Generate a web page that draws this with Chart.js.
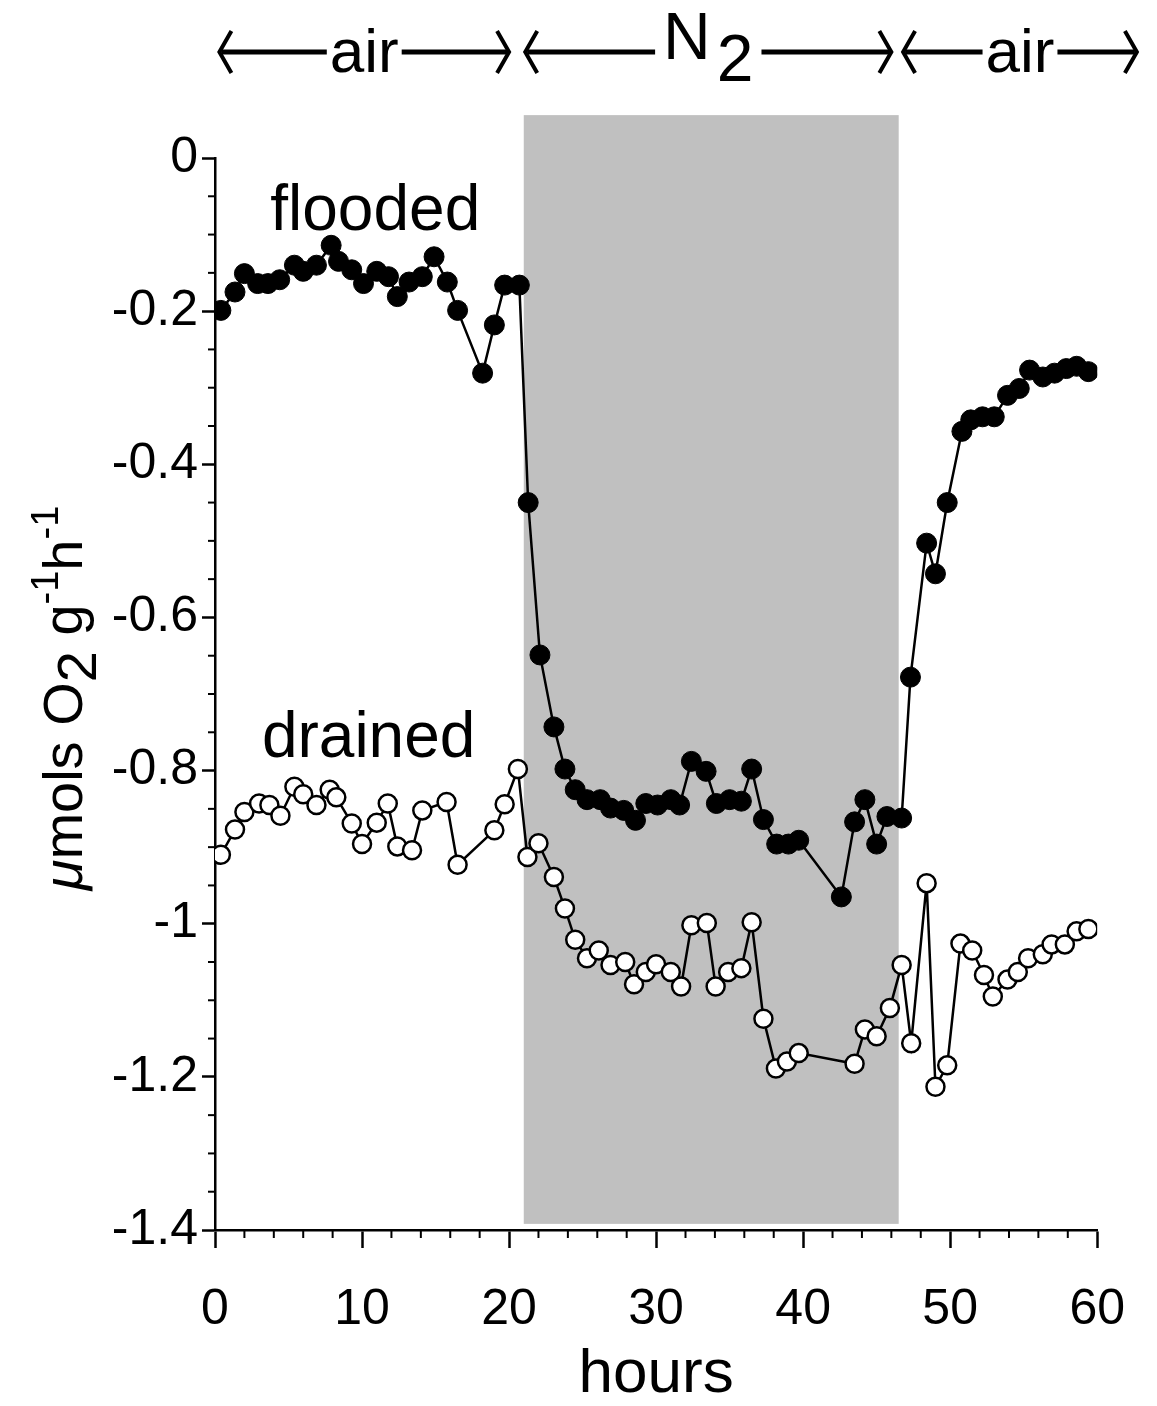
<!DOCTYPE html>
<html>
<head>
<meta charset="utf-8">
<script src="https://cdn.jsdelivr.net/npm/chart.js@4.4.1/dist/chart.umd.min.js"></script>
<style>
  html, body { margin: 0; padding: 0; background: #fff; }
  #wrap { width: 1157px; height: 1406px; position: relative; }
</style>
</head>
<body>
<div id="wrap"><canvas id="chart"></canvas></div>
<script>
// hours and rate values
const floodedHours = [0.4, 1.36, 2.0, 2.9, 3.6, 4.4, 5.4, 6.0, 6.9, 7.9, 8.4, 9.3, 10.1, 11.0, 11.8, 12.4, 13.2, 14.1, 14.9, 15.8,
    16.5, 18.2, 19.0, 19.7, 20.7, 21.3, 22.1, 23.05, 23.8, 24.5, 25.3, 26.2, 26.9, 27.8, 28.6, 29.3, 30.1, 31.0, 31.6, 32.4,
    33.4, 34.1, 35.0, 35.8, 36.5, 37.3, 38.2, 39.0, 39.7, 42.6, 43.5, 44.2, 45.0, 45.7, 46.7, 47.3, 48.4, 49.0, 49.8, 50.8,
    51.4, 52.2, 53.0, 53.9, 54.7, 55.4, 56.3, 57.1, 57.9, 58.6, 59.4];
const floodedValues = [-0.199, -0.175, -0.151, -0.164, -0.164, -0.159, -0.140, -0.148, -0.140, -0.114, -0.135, -0.146, -0.164, -0.148, -0.155, -0.181, -0.162, -0.155, -0.129, -0.162,
    -0.199, -0.281, -0.218, -0.166, -0.166, -0.45, -0.649, -0.743, -0.798, -0.825, -0.838, -0.838, -0.849, -0.852, -0.865, -0.843, -0.845, -0.838, -0.845, -0.788,
    -0.801, -0.843, -0.838, -0.84, -0.798, -0.864, -0.896, -0.896, -0.891, -0.965, -0.867, -0.838, -0.896, -0.860, -0.862, -0.678, -0.503, -0.543, -0.45, -0.357,
    -0.342, -0.338, -0.338, -0.31, -0.301, -0.277, -0.286, -0.281, -0.275, -0.272, -0.279];

const drainedHours = [0.4, 1.36, 2.0, 3.0, 3.7, 4.45, 5.4, 6.0, 6.9, 7.8, 8.25, 9.3, 10.0, 11.0, 11.75, 12.4, 13.4, 14.1, 15.75, 16.5,
    19.0, 19.7, 20.6, 21.25, 22.0, 23.05, 23.8, 24.5, 25.3, 26.1, 26.9, 27.9, 28.5, 29.3, 30.0, 31.0, 31.7, 32.4, 33.45, 34.05,
    34.9, 35.8, 36.5, 37.3, 38.15, 38.9, 39.7, 43.5, 44.2, 45.0, 45.9, 46.7, 47.35, 48.4, 49.0, 49.8, 50.7, 51.5, 52.3, 52.9,
    53.9, 54.6, 55.3, 56.3, 56.9, 57.8, 58.6, 59.4];
const drainedValues = [-0.910, -0.877, -0.854, -0.843, -0.845, -0.859, -0.821, -0.831, -0.845, -0.825, -0.835, -0.869, -0.896, -0.868, -0.843, -0.899, -0.904, -0.852, -0.841, -0.923,
    -0.878, -0.844, -0.798, -0.913, -0.895, -0.939, -0.980, -1.021, -1.045, -1.035, -1.054, -1.050, -1.079, -1.063, -1.053, -1.063, -1.082, -1.002, -0.999, -1.082,
    -1.063, -1.058, -0.998, -1.124, -1.189, -1.180, -1.169, -1.183, -1.138, -1.147, -1.110, -1.054, -1.156, -0.947, -1.213, -1.185, -1.026, -1.035, -1.067, -1.095,
    -1.073, -1.063, -1.045, -1.040, -1.027, -1.027, -1.010, -1.007];

// gas phases shown by the arrows on top
const phaseLabels = ['air', 'N', 'air'];
const phaseStart = [0.3, 21.1, 46.8];
const phaseEnd = [20.0, 46.0, 62.7];
const n2Start = 21.0;
const n2End = 46.5;

const FONT = '"Liberation Sans", Arial, Helvetica, sans-serif';
Chart.defaults.font.family = FONT;
Chart.defaults.color = '#000';

const toPoints = (xs, ys) => xs.map((h, i) => ({ x: h, y: ys[i] }));

const decorations = {
    id: 'decorations',
    beforeDraw(chart) {
        const { ctx, scales: { x, y } } = chart;
        // N2 shading
        ctx.save();
        ctx.fillStyle = '#c0c0c0';
        const x0 = x.getPixelForValue(n2Start), x1 = x.getPixelForValue(n2End);
        const y0 = y.getPixelForValue(0.056), y1 = y.getPixelForValue(-1.392);
        ctx.fillRect(x0, y0, x1 - x0, y1 - y0);
        ctx.restore();
    },
    afterDraw(chart) {
        const { ctx, scales: { x, y } } = chart;
        ctx.save();
        ctx.strokeStyle = '#000';
        ctx.fillStyle = '#000';

        // minor ticks
        ctx.lineWidth = 2;
        const axisY = y.getPixelForValue(-1.4);
        for (let h = 2; h < 60; h += 2) {
            if (h % 10 === 0) continue;
            const px = x.getPixelForValue(h);
            ctx.beginPath(); ctx.moveTo(px, axisY); ctx.lineTo(px, axisY + 8); ctx.stroke();
        }
        const axisX = x.getPixelForValue(0);
        for (let k = 1; k < 28; k++) {
            if (k % 4 === 0) continue;
            const py = y.getPixelForValue(-k * 0.05);
            ctx.beginPath(); ctx.moveTo(axisX, py); ctx.lineTo(axisX - 7, py); ctx.stroke();
        }

        // series labels
        ctx.font = '64px ' + FONT;
        ctx.textAlign = 'center';
        ctx.textBaseline = 'alphabetic';
        ctx.fillText('flooded', x.getPixelForValue(10.9), y.getPixelForValue(-0.094));
        ctx.fillText('drained', x.getPixelForValue(10.45), y.getPixelForValue(-0.782));

        // phase arrows
        const arrowY = 52;
        phaseLabels.forEach((lab, i) => {
            const a = x.getPixelForValue(phaseStart[i]);
            const b = x.getPixelForValue(phaseEnd[i]);
            const mid = (a + b) / 2;
            let half;
            if (lab === 'N') {
                ctx.font = '66px ' + FONT;
                const wN = ctx.measureText('N').width;
                const w2 = ctx.measureText('2').width;
                const tot = wN + w2 + 6;
                half = tot / 2 + 8;
                ctx.textAlign = 'left';
                ctx.fillText('N', mid - tot / 2, 59);
                ctx.fillText('2', mid - tot / 2 + wN + 6, 81);
            } else {
                ctx.font = '62px ' + FONT;
                const w = ctx.measureText(lab).width;
                half = w / 2 + 3;
                ctx.textAlign = 'center';
                ctx.fillText(lab, mid, 72);
            }
            ctx.lineWidth = 5;
            ctx.beginPath();
            ctx.moveTo(a + 2, arrowY); ctx.lineTo(mid - half, arrowY);
            ctx.moveTo(mid + half, arrowY); ctx.lineTo(b - 2, arrowY);
            ctx.stroke();
            ctx.lineWidth = 4;
            ctx.lineJoin = 'miter';
            ctx.beginPath();
            ctx.moveTo(a + 12, arrowY - 21); ctx.lineTo(a, arrowY); ctx.lineTo(a + 12, arrowY + 21);
            ctx.moveTo(b - 12, arrowY - 21); ctx.lineTo(b, arrowY); ctx.lineTo(b - 12, arrowY + 21);
            ctx.stroke();
        });

        // y axis title with sub/superscripts
        const big = 56, small = 38;
        const parts = [
            { t: '\u03bc', f: 'italic ' + big + 'px ' + FONT, dy: 0 },
            { t: 'mols O', f: big + 'px ' + FONT, dy: 0 },
            { t: '2', f: big + 'px ' + FONT, dy: 14 },
            { t: ' g', f: big + 'px ' + FONT, dy: 0 },
            { t: '-1', f: small + 'px ' + FONT, dy: -24 },
            { t: 'h', f: big + 'px ' + FONT, dy: 0 },
            { t: '-1', f: small + 'px ' + FONT, dy: -24 }
        ];
        let total = 0;
        parts.forEach(p => { ctx.font = p.f; p.w = ctx.measureText(p.t).width; total += p.w; });
        ctx.translate(82, 698);
        ctx.rotate(-Math.PI / 2);
        ctx.textAlign = 'left';
        ctx.textBaseline = 'alphabetic';
        let cx = -total / 2;
        parts.forEach(p => {
            ctx.font = p.f;
            ctx.fillText(p.t, cx, p.dy);
            cx += p.w;
        });
        ctx.restore();
    }
};

new Chart(document.getElementById('chart'), {
    type: 'line',
    data: {
        datasets: [
            {
                label: 'flooded',
                data: toPoints(floodedHours, floodedValues),
                borderColor: '#000',
                borderWidth: 2.5,
                pointRadius: 10,
                pointBackgroundColor: '#000',
                pointBorderColor: '#000',
                pointBorderWidth: 1,
                tension: 0
            },
            {
                label: 'drained',
                data: toPoints(drainedHours, drainedValues),
                borderColor: '#000',
                borderWidth: 2.5,
                pointRadius: 9,
                pointBackgroundColor: '#fff',
                pointBorderColor: '#000',
                pointBorderWidth: 2.5,
                tension: 0
            }
        ]
    },
    options: {
        responsive: true,
        maintainAspectRatio: false,
        animation: false,
        layout: { padding: { top: 158, right: 57, left: 0, bottom: 0 } },
        plugins: {
            legend: { display: false },
            tooltip: { enabled: false }
        },
        scales: {
            x: {
                type: 'linear',
                min: 0,
                max: 60,
                afterFit: s => { s.height = 176; },
                border: { display: true, color: '#000', width: 2.5 },
                grid: { drawOnChartArea: false, drawTicks: true, tickLength: 18, tickColor: '#000', tickWidth: 2.5 },
                ticks: { stepSize: 10, font: { size: 50 }, padding: 32, maxRotation: 0 },
                title: { display: true, text: 'hours', font: { size: 62, lineHeight: 1 }, padding: 0 }
            },
            y: {
                min: -1.4,
                max: 0,
                afterFit: s => { s.width = 215; },
                border: { display: true, color: '#000', width: 2.5 },
                grid: { drawOnChartArea: false, drawTicks: true, tickLength: 13, tickColor: '#000', tickWidth: 2.5 },
                ticks: {
                    stepSize: 0.2,
                    font: { size: 50 },
                    padding: 4,
                    callback: v => String(parseFloat(Number(v).toFixed(1)))
                }
            }
        }
    },
    plugins: [decorations]
});
</script>
</body>
</html>
